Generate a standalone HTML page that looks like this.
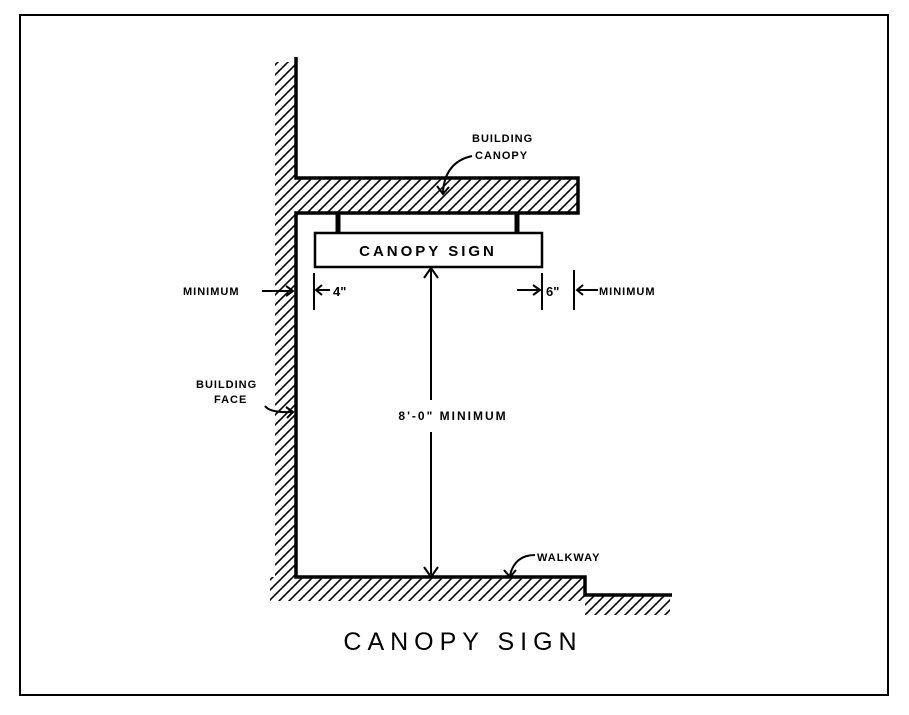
<!DOCTYPE html>
<html><head><meta charset="utf-8"><style>
html,body{margin:0;padding:0;background:#fff}
svg{display:block}
text{font-family:"Liberation Sans",sans-serif;font-weight:bold;fill:#000}
</style></head><body>
<svg width="909" height="715" viewBox="0 0 909 715" xmlns="http://www.w3.org/2000/svg">
<defs>
<pattern id="h" width="10" height="10" patternUnits="userSpaceOnUse">
<path d="M-2,12 L12,-2 M-2,2 L2,-2 M8,12 L12,8" stroke="#000" stroke-width="1.6"/>
</pattern>
</defs>
<rect x="20" y="15" width="868" height="680" fill="none" stroke="#000" stroke-width="2"/>
<rect x="275" y="62" width="21" height="515" fill="url(#h)"/>
<rect x="296" y="178" width="282" height="35" fill="url(#h)"/>
<rect x="270" y="577" width="315" height="24" fill="url(#h)"/>
<rect x="585" y="595" width="85" height="20" fill="url(#h)"/>
<path d="M296,57 L296,178 L578,178 L578,213 L296,213 L296,577 L585,577 L585,595 L672,595" fill="none" stroke="#000" stroke-width="3.5"/>
<path d="M338,213 L338,233 M517,213 L517,233" stroke="#000" stroke-width="5"/>
<rect x="315" y="233" width="227" height="34" fill="#fff" stroke="#000" stroke-width="2.5"/>
<text x="428" y="256" font-size="15" text-anchor="middle" letter-spacing="3">CANOPY SIGN</text>
<path d="M431,270 L431,400 M431,432 L431,575" stroke="#000" stroke-width="2"/>
<path d="M424,278 L431,268 L438,278 M424,567 L431,577 L438,567" stroke="#000" stroke-width="2" fill="none"/>
<text x="453" y="420" font-size="12" text-anchor="middle" letter-spacing="2">8'-0" MINIMUM</text>
<path d="M314,273 L314,310" stroke="#000" stroke-width="2"/>
<path d="M316,290 L330,290 M322,285 L316,290 L322,295" stroke="#000" stroke-width="2" fill="none"/>
<text x="333" y="296" font-size="13">4"</text>
<text x="183" y="295" font-size="11" letter-spacing="1">MINIMUM</text>
<path d="M262,291 L292,291 M286,286 L293,291 L286,296" stroke="#000" stroke-width="2" fill="none"/>
<path d="M542,273 L542,310 M574,270 L574,310" stroke="#000" stroke-width="2"/>
<path d="M517,290 L539,290 M533,285 L540,290 L533,295" stroke="#000" stroke-width="2" fill="none"/>
<text x="546" y="296" font-size="13">6"</text>
<path d="M577,290 L598,290 M583,285 L577,290 L583,295" stroke="#000" stroke-width="2" fill="none"/>
<text x="599" y="295" font-size="11" letter-spacing="1">MINIMUM</text>
<text x="472" y="142" font-size="11" letter-spacing="1">BUILDING</text>
<text x="475" y="159" font-size="11" letter-spacing="1">CANOPY</text>
<path d="M472,156 Q445,162 443,192 M437,186 L443,194 L449,187" stroke="#000" stroke-width="2" fill="none"/>
<text x="196" y="388" font-size="11" letter-spacing="1">BUILDING</text>
<text x="214" y="403" font-size="11" letter-spacing="1">FACE</text>
<path d="M265,406 Q270,413 292,412 M286,407 L293,412 L287,418" stroke="#000" stroke-width="2" fill="none"/>
<text x="537" y="561" font-size="11" letter-spacing="1">WALKWAY</text>
<path d="M535,555 Q515,555 510,575 M504,570 L510,577 L516,570" stroke="#000" stroke-width="2" fill="none"/>
<text x="463" y="650" font-size="25" text-anchor="middle" letter-spacing="6" style="font-weight:normal">CANOPY SIGN</text>
</svg>
</body></html>
